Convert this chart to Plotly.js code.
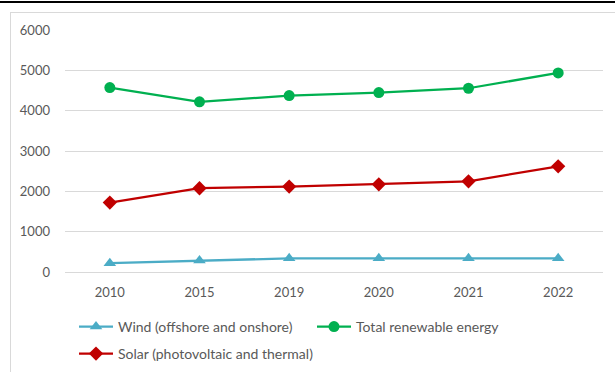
<!DOCTYPE html>
<html>
<head>
<meta charset="utf-8">
<script src="https://cdn.plot.ly/plotly-3.0.1.min.js"></script>
<style>
  html, body { margin: 0; padding: 0; background: #ffffff; }
  body { width: 615px; height: 372px; position: relative; overflow: hidden; }
  #topline { position: absolute; left: 0; top: 1px; width: 615px; height: 2px; background: #000; }
  #frame { position: absolute; left: 10px; top: 12px; width: 620px; height: 380px; border-top: 1px solid #d9d9d9; border-left: 1px solid #d9d9d9; }
  #chart { position: absolute; left: 0; top: 0; width: 615px; height: 372px; }
</style>
</head>
<body>
<div id="topline"></div>
<div id="frame"></div>
<div id="chart"></div>
<script>
const years = ['2010', '2015', '2019', '2020', '2021', '2022'];
const wind = [220, 285, 338, 338, 338, 338];
const totalRenewable = [4572, 4218, 4375, 4448, 4556, 4935];
const solar = [1722, 2077, 2117, 2175, 2249, 2620];
const yTicks = [0, 1000, 2000, 3000, 4000, 5000, 6000];

const FONT = 'Lato, "Open Sans", "Liberation Sans", sans-serif';

const traces = [
  {
    x: years, y: wind, name: 'Wind (offshore and onshore)', type: 'scatter', mode: 'lines+markers',
    line: { color: '#4BACC6', width: 2.25 },
    marker: { symbol: 'triangle-up', size: 11, color: '#4BACC6' },
    legend: 'legend'
  },
  {
    x: years, y: totalRenewable, name: 'Total renewable energy', type: 'scatter', mode: 'lines+markers',
    line: { color: '#00B050', width: 2.25 },
    marker: { symbol: 'circle', size: 11, color: '#00B050' },
    legend: 'legend'
  },
  {
    x: years, y: solar, name: 'Solar (photovoltaic and thermal)', type: 'scatter', mode: 'lines+markers',
    line: { color: '#C00000', width: 2.25 },
    marker: { symbol: 'diamond', size: 11, color: '#C00000' },
    legend: 'legend2'
  }
];

const layout = {
  width: 615, height: 372,
  margin: { l: 65, r: 12, t: 30, b: 100 },
  paper_bgcolor: 'rgba(0,0,0,0)',
  plot_bgcolor: 'rgba(0,0,0,0)',
  font: { family: FONT, size: 13, color: '#595959' },
  xaxis: {
    type: 'category', categoryorder: 'array', categoryarray: years,
    range: [-0.5, 5.5], showgrid: false, zeroline: false, showline: false,
    ticks: '', ticklabelstandoff: 11,
    tickfont: { family: FONT, size: 13, color: '#595959' }, fixedrange: true
  },
  yaxis: {
    range: [0, 6000], tickvals: yTicks, ticktext: yTicks.map(String),
    showgrid: true, gridcolor: '#d9d9d9', gridwidth: 1,
    zeroline: true, zerolinecolor: '#d9d9d9', zerolinewidth: 1,
    showline: false, ticks: '', ticklabelstandoff: 14,
    tickfont: { family: FONT, size: 13, color: '#595959' }, fixedrange: true
  },
  showlegend: true,
  legend: {
    orientation: 'h', xref: 'container', yref: 'container',
    x: 74 / 615, y: 1 - 311 / 372, xanchor: 'left', yanchor: 'top',
    itemwidth: 34, entrywidth: 189, traceorder: 'normal',
    font: { family: FONT, size: 14, color: '#595959' }, bgcolor: 'rgba(0,0,0,0)'
  },
  legend2: {
    orientation: 'h', xref: 'container', yref: 'container',
    x: 74 / 615, y: 1 - 338 / 372, xanchor: 'left', yanchor: 'top',
    itemwidth: 34,
    font: { family: FONT, size: 14, color: '#595959' }, bgcolor: 'rgba(0,0,0,0)'
  }
};

Plotly.newPlot('chart', traces, layout, { displayModeBar: false, staticPlot: true });
</script>
</body>
</html>
